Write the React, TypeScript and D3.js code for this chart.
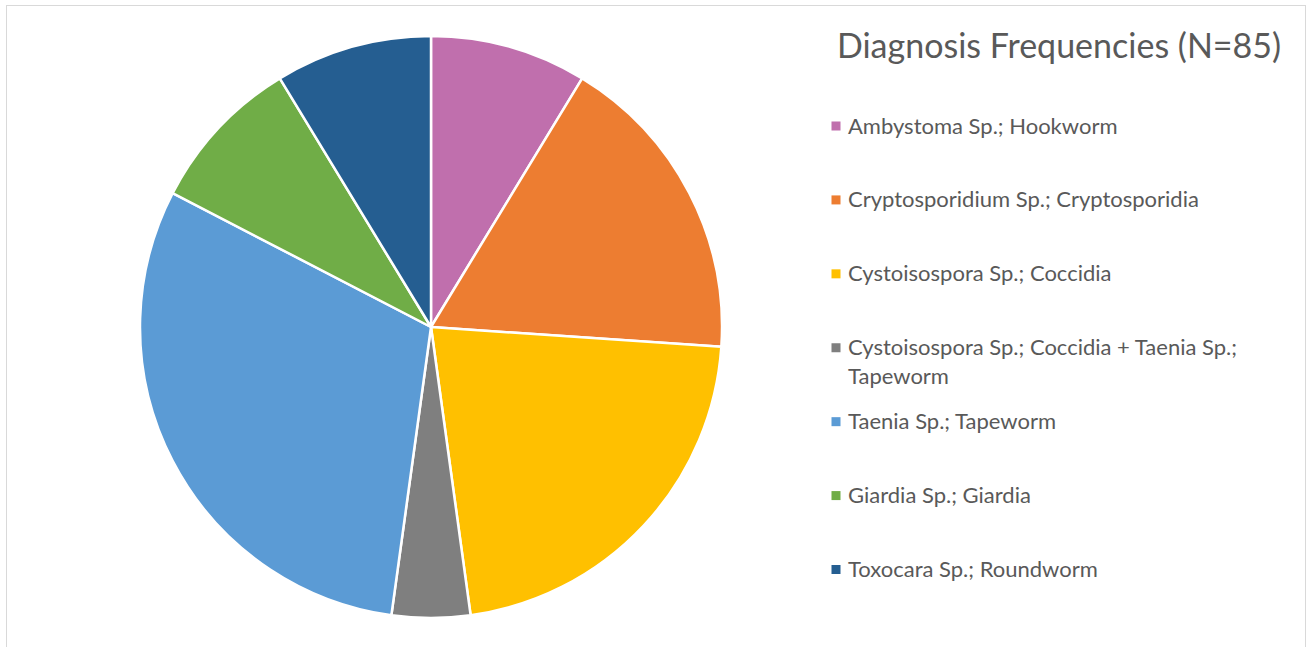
import * as d3 from "d3";
import React from "react";

// diagnosis counts (clockwise from 12 o'clock)
const categories = [
  "Ambystoma Sp.; Hookworm",
  "Cryptosporidium Sp.; Cryptosporidia",
  "Cystoisospora Sp.; Coccidia",
  "Cystoisospora Sp.; Coccidia + Taenia Sp.; Tapeworm",
  "Taenia Sp.; Tapeworm",
  "Giardia Sp.; Giardia",
  "Toxocara Sp.; Roundworm",
];
const counts = [2, 4, 5, 1, 7, 2, 2];
const colors = ["#C06FAD", "#ED7D31", "#FFC000", "#7F7F7F", "#5B9BD5", "#70AD47", "#255E91"];
const title = "Diagnosis Frequencies (N=85)";

const width = 1308;
const height = 647;

// naive word wrap for the long legend entries
const wrap = (s: string, max: number) => {
  const lines: string[] = [];
  let cur = "";
  s.split(" ").forEach((w) => {
    const next = cur ? cur + " " + w : w;
    if (next.length > max && cur) {
      lines.push(cur);
      cur = w;
    } else cur = next;
  });
  if (cur) lines.push(cur);
  return lines;
};

export default function App() {
  const cx = 431;
  const cy = 327;
  const radius = 291;

  const data = categories.map((name, i) => ({ name, value: counts[i], color: colors[i] }));
  const pie = d3
    .pie<any>()
    .sort(null)
    .value((d) => d.value);
  const arc = d3.arc<any>().innerRadius(0).outerRadius(radius);
  const arcs = pie(data);

  // legend rows, evenly spaced like Excel does it
  const legendY = d3
    .scaleLinear()
    .domain([0, categories.length - 1])
    .range([126, 569.5]);

  return (
    <div style={{ position: "fixed", left: 0, top: 0 }}>
      <svg width={width} height={height} style={{ display: "block", background: "#fff" }}>
        <rect x={6.5} y={5.5} width={1299} height={660} fill="#fff" stroke="#D9D9D9" strokeWidth={1} />

        <g transform={`translate(${cx},${cy})`}>
          {arcs.map((a, i) => (
            <path key={i} d={arc(a) as string} fill={a.data.color} stroke="#fff" strokeWidth={2.5} strokeLinejoin="round" />
          ))}
        </g>

        <text
          x={1059}
          y={58}
          textAnchor="middle"
          fill="#595959"
          style={{ fontFamily: "Lato, 'Open Sans', sans-serif", fontSize: 34 }}
        >
          {title}
        </text>

        <g style={{ fontFamily: "Lato, 'Open Sans', sans-serif", fontSize: 22 }} fill="#595959">
          {data.map((d, i) => {
            const y = legendY(i);
            const lines = wrap(d.name, 42);
            return (
              <g key={d.name}>
                <rect x={831.5} y={y - 4.5} width={9} height={9} fill={d.color} />
                {lines.map((l, j) => (
                  <text key={j} x={848} y={y + 7.5 + j * 28.5}>
                    {l}
                  </text>
                ))}
              </g>
            );
          })}
        </g>
      </svg>
    </div>
  );
}
